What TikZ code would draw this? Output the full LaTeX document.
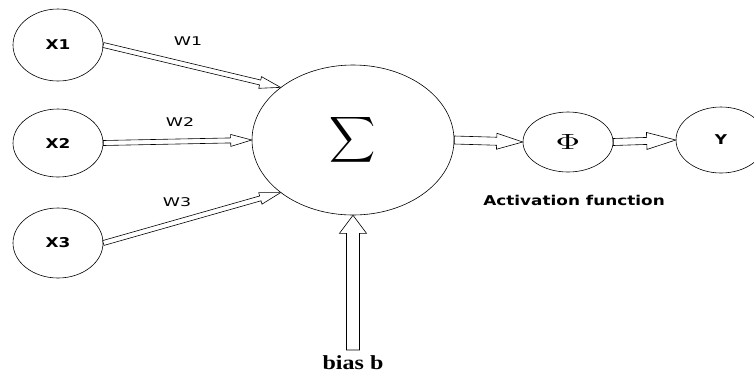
\documentclass[tikz,border=0pt]{standalone}
\usepackage{fontspec}
\usetikzlibrary{shapes.geometric, calc}

\newfontfamily\labelfont[FakeStretch=1.25]{DejaVu Sans}
\newfontfamily\weightfont[FakeStretch=1.45]{DejaVu Sans}
\newfontfamily\biasfont[FakeStretch=1.2]{Liberation Serif}

% hollow arrow: #1 from, #2 to, #3 half shaft, #4 half head, #5 head length (pt)
\newcommand{\hollowarrow}[5]{%
  \draw[fill=white] let \p1=(#1), \p2=(#2),
      \n1={atan2(\y2-\y1,\x2-\x1)}, \n2={veclen(\x2-\x1,\y2-\y1)} in
    [shift={(\x1,\y1)}, rotate=\n1]
    (0pt,#3pt) -- ({\n2-#5pt},#3pt) -- ({\n2-#5pt},#4pt) -- (\n2,0pt)
    -- ({\n2-#5pt},-#4pt) -- ({\n2-#5pt},-#3pt) -- (0pt,-#3pt) -- cycle;
}

\tikzset{
  unit/.style={draw, ellipse, inner sep=0pt, font=\labelfont\bfseries\fontsize{13.5}{14}\selectfont},
  weight/.style={font=\weightfont\fontsize{12}{13}\selectfont},
}

\begin{document}
\begin{tikzpicture}[x=1pt, y=-1pt, line width=0.6pt]
    \useasboundingbox (0,0) rectangle (754,376);

    % inputs
    \node[unit, minimum width=90pt, minimum height=72pt] (x1) at (58,45) {X1};
    \node[unit, minimum width=90pt, minimum height=68pt] (x2) at (58,143) {X2};
    \node[unit, minimum width=90pt, minimum height=70pt] (x3) at (58,243) {X3};

    % summation, activation, output
    \node[draw, ellipse, inner sep=0pt, minimum width=202pt, minimum height=150pt] (sum) at (353,140)
        {\scalebox{3.2}{$\displaystyle\sum$}};
    \node[draw, ellipse, inner sep=0pt, minimum width=90pt, minimum height=60pt] (phi) at (568,142)
        {\scalebox{3.4}[2.2]{$\Phi$}};
    \node[unit, minimum width=90pt, minimum height=66pt] (y) at (721,140) {Y};

    \coordinate (biasfoot) at (353,350);

    % weighted inputs
    \hollowarrow{x1.east}{sum.144}{2.5}{6}{21}
    \hollowarrow{x2.east}{sum.west}{2.5}{6}{21}
    \hollowarrow{x3.east}{sum.216}{2.5}{6}{21}
    \node[weight] (w1) at (188,41) {W1};
    \node[weight] (w2) at (180,122) {W2};
    \node[weight] (w3) at (177,202) {W3};

    \hollowarrow{sum.east}{phi.west}{4}{8}{26}
    \hollowarrow{phi.east}{y.west}{3.5}{8.5}{29}
    \hollowarrow{biasfoot}{sum.south}{6.5}{13.5}{18}

    \node[font=\labelfont\bfseries\fontsize{13.5}{14}\selectfont] (act) at (574,200) {Activation function};
    \node[font=\biasfont\bfseries\fontsize{20}{22}\selectfont] (bias) at (353,363) {bias b};
\end{tikzpicture}
\end{document}
